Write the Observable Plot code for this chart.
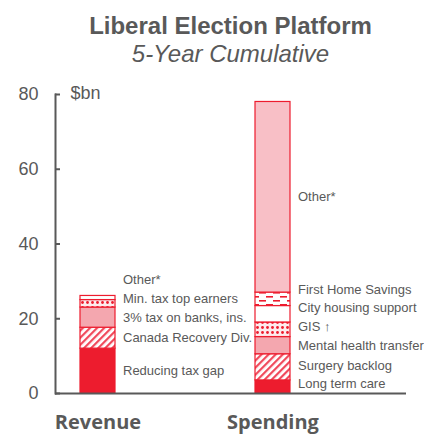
<!DOCTYPE html>
<html>
<head>
<meta charset="utf-8">
<script src="https://cdn.jsdelivr.net/npm/d3@7"></script>
<script src="https://cdn.jsdelivr.net/npm/@observablehq/plot@0.6"></script>
<style>
  body { margin: 0; background: #fff; }
  #wrap { position: relative; width: 424px; height: 434px; overflow: hidden;
          font-family: Arial, "Liberation Sans", sans-serif; color: #595959; }
  .t { position: absolute; left: 55px; width: 351px; text-align: center;
       line-height: 24px; white-space: nowrap; }
  #title { top: 14px; font-size: 24px; font-weight: bold; }
  #subtitle { top: 42px; font-size: 24px; font-style: italic; }
  #chart { position: absolute; top: 70px; left: 0; }
</style>
</head>
<body>
<div id="wrap">
  <div class="t" id="title">Liberal Election Platform</div>
  <div class="t" id="subtitle">5-Year Cumulative</div>
  <div id="chart"></div>
</div>
<script>
// Five-year cumulative totals, $bn, stacked bottom to top
const categories = ["Revenue", "Spending"];

const revenueItems = ["Reducing tax gap", "Canada Recovery Div.", "3% tax on banks, ins.", "Min. tax top earners", "Other*"];
const revenueValues = [12.0, 5.6, 5.4, 2.0, 1.1];

const spendingItems = ["Long term care", "Surgery backlog", "Mental health transfer", "GIS ↑", "City housing support", "First Home Savings", "Other*"];
const spendingValues = [3.5, 7.0, 4.6, 3.9, 4.4, 3.6, 51.0];

const yTicks = [0, 20, 40, 60, 80];

const RED = "#ED1C2E";
const GREY = "#595959";

// fill for each segment, keyed by "category:item"
const segmentFill = {
  "Revenue:Reducing tax gap": RED,
  "Revenue:Canada Recovery Div.": "url(#hatch)",
  "Revenue:3% tax on banks, ins.": "#F4A7AF",
  "Revenue:Min. tax top earners": "url(#dots)",
  "Revenue:Other*": "#FFFFFF",
  "Spending:Long term care": RED,
  "Spending:Surgery backlog": "url(#hatch)",
  "Spending:Mental health transfer": "#F4A7AF",
  "Spending:GIS ↑": "url(#dots)",
  "Spending:City housing support": "#FFFFFF",
  "Spending:First Home Savings": "url(#dashes)",
  "Spending:Other*": "#F8BFC6"
};

const rows = [
  ...revenueItems.map((item, i) => ({category: "Revenue", item, value: revenueValues[i]})),
  ...spendingItems.map((item, i) => ({category: "Spending", item, value: spendingValues[i]}))
];

// labels sit at segment midpoints, nudged upward so they stay at least
// GAP units apart and half a gap clear of the baseline
const GAP = 5;
function labelRows(category, items, values) {
  let base = 0, prev = -GAP / 2;
  return items.map((item, i) => {
    const mid = base + values[i] / 2;
    base += values[i];
    const y = Math.max(mid, prev + GAP);
    prev = y;
    return {category, item, y};
  });
}
const labels = [
  ...labelRows("Revenue", revenueItems, revenueValues),
  ...labelRows("Spending", spendingItems, spendingValues)
];

const chart = Plot.plot({
  width: 424,
  height: 364,
  marginTop: 24,
  marginBottom: 41,
  marginLeft: 55,
  marginRight: 18,
  style: {fontFamily: 'Arial, "Liberation Sans", sans-serif', color: GREY, background: "#fff", overflow: "visible"},
  color: {type: "identity"},
  x: {domain: categories, paddingInner: 0.8, paddingOuter: 0.4, align: 0.18, label: null},
  y: {domain: [0, 80], label: null},
  marks: [
    Plot.barY(rows, {
      x: "category",
      y: "value",
      fill: d => segmentFill[d.category + ":" + d.item],
      stroke: RED,
      strokeWidth: 1.2
    }),
    Plot.text(labels, {
      x: "category",
      y: "y",
      text: "item",
      textAnchor: "start",
      dx: 25,
      fontSize: 13,
      fill: GREY,
      style: "letter-spacing:-0.4px;word-spacing:1.5px"
    }),
    Plot.axisY({ticks: yTicks, tickSize: -5, tickPadding: 22, fontSize: 18, strokeWidth: 2, tickFormat: d => d}),
    Plot.frame({anchor: "left", stroke: GREY, strokeWidth: 2}),
    Plot.ruleY([0], {stroke: GREY, strokeWidth: 2}),
    Plot.axisX({tickSize: 0, tickPadding: 21, fontSize: 20, fontWeight: "bold", fontFamily: '"Open Sans", sans-serif'}),
    Plot.text(["$bn"], {frameAnchor: "top-left", dx: 15, dy: 4, lineAnchor: "bottom", fontSize: 18, fill: GREY})
  ]
});

// fill patterns used by the hatched, dotted and dashed segments
const defs = d3.select(chart).insert("defs", ":first-child");

const hatch = defs.append("pattern")
  .attr("id", "hatch").attr("patternUnits", "userSpaceOnUse")
  .attr("width", 5).attr("height", 5).attr("patternTransform", "rotate(45)");
hatch.append("rect").attr("width", 5).attr("height", 5).attr("fill", "#fff");
hatch.append("rect").attr("width", 2.2).attr("height", 5).attr("fill", "#F0485A");

const dots = defs.append("pattern")
  .attr("id", "dots").attr("patternUnits", "userSpaceOnUse")
  .attr("width", 5).attr("height", 5);
dots.append("rect").attr("width", 5).attr("height", 5).attr("fill", "#FDEBED");
dots.append("circle").attr("cx", 2.5).attr("cy", 2.5).attr("r", 1.4).attr("fill", RED);

const dashes = defs.append("pattern")
  .attr("id", "dashes").attr("patternUnits", "userSpaceOnUse")
  .attr("width", 14).attr("height", 8);
dashes.append("rect").attr("width", 14).attr("height", 8).attr("fill", "#fff");
dashes.append("rect").attr("x", 0).attr("y", 2).attr("width", 7).attr("height", 1.6).attr("fill", RED);
dashes.append("rect").attr("x", 7).attr("y", 6).attr("width", 7).attr("height", 1.6).attr("fill", RED);

document.getElementById("chart").appendChild(chart);
</script>
</body>
</html>
